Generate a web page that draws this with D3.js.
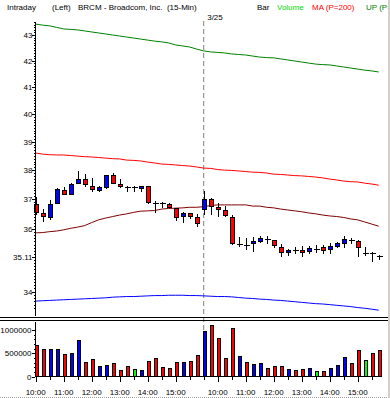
<!DOCTYPE html>
<html>
<head>
<meta charset="utf-8">
<script src="https://d3js.org/d3.v7.min.js"></script>
<style>
    body { margin: 0; background: #ffffff; }
    svg { display: block; font-family: "Liberation Sans", Arial, sans-serif; }
</style>
</head>
<body>
<div id="placeholder"></div>
<script>
// 15-min bars, two sessions
var day1Times = ["10:00", "10:15", "10:30", "10:45", "11:00", "11:15", "11:30", "11:45",
    "12:00", "12:15", "12:30", "12:45", "13:00", "13:15", "13:30", "13:45",
    "14:00", "14:15", "14:30", "14:45", "15:00", "15:15", "15:30", "15:45"];
var day2Times = ["9:30", "9:45", "10:00", "10:15", "10:30", "10:45", "11:00", "11:15", "11:30", "11:45",
    "12:00", "12:15", "12:30", "12:45", "13:00", "13:15", "13:30", "13:45",
    "14:00", "14:15", "14:30", "14:45", "15:00", "15:15", "15:30", "15:45"];
var dayLabel = "3/25";

var opens = [36.81, 36.53, 36.40, 36.86, 37.31, 37.15, 37.55, 37.68, 37.44, 37.29,
    37.39, 37.82, 37.51, 37.42, 37.41, 37.36, 37.44, 36.87, 36.86, 36.83,
    36.70, 36.42, 36.52, 36.40, 36.64, 37.00, 36.73, 36.63, 36.40, 35.50,
    35.48, 35.52, 35.60, 35.68, 35.64, 35.41, 35.25, 35.31, 35.31, 35.27,
    35.35, 35.39, 35.34, 35.45, 35.54, 35.65, 35.61, 35.22, 35.23, 35.12];
var highs = [37.08, 36.67, 36.98, 37.38, 37.43, 37.55, 37.97, 37.86, 37.72, 37.46,
    37.83, 37.91, 37.68, 37.44, 37.45, 37.46, 37.45, 36.94, 36.92, 36.88,
    36.72, 36.58, 36.55, 36.50, 37.27, 37.03, 36.88, 36.77, 36.47, 35.76,
    35.70, 35.76, 35.79, 35.78, 35.66, 35.52, 35.36, 35.43, 35.46, 35.46,
    35.48, 35.48, 35.56, 35.59, 35.78, 35.72, 35.65, 35.43, 35.27, 35.17];
var lows = [36.47, 36.23, 36.31, 36.84, 37.15, 37.13, 37.52, 37.43, 37.26, 37.26,
    37.36, 37.51, 37.39, 37.26, 37.26, 37.26, 36.83, 36.55, 36.72, 36.70,
    36.27, 36.20, 36.34, 36.08, 36.47, 36.46, 36.40, 36.40, 35.48, 35.43,
    35.32, 35.27, 35.56, 35.52, 35.38, 35.11, 35.14, 35.20, 35.11, 35.20,
    35.24, 35.19, 35.20, 35.38, 35.40, 35.52, 35.11, 35.14, 34.95, 35.00];
var closes = [36.57, 36.42, 36.83, 37.32, 37.17, 37.52, 37.68, 37.49, 37.34, 37.41,
    37.82, 37.55, 37.43, 37.41, 37.41, 37.44, 36.90, 36.86, 36.85, 36.72,
    36.40, 36.53, 36.42, 36.20, 37.00, 36.76, 36.66, 36.44, 35.54, 35.51,
    35.47, 35.61, 35.68, 35.67, 35.46, 35.25, 35.32, 35.30, 35.25, 35.38,
    35.35, 35.30, 35.42, 35.53, 35.65, 35.64, 35.40, 35.22, 35.22, 35.11];
var volumes = [674000, 580000, 580000, 580000, 472000, 493000, 776000, 298000, 363000, 211000,
    233000, 276000, 124000, 211000, 146000, 124000, 320000, 385000, 189000, 167000,
    298000, 298000, 320000, 450000, 972000, 1087000, 820000, 385000, 1037000, 428000,
    298000, 254000, 276000, 167000, 211000, 211000, 146000, 124000, 146000, 167000,
    102000, 102000, 167000, 233000, 407000, 276000, 559000, 341000, 493000, 559000];

// indicator lines
var upBand = [43.43, 43.39, 43.36, 43.30, 43.24, 43.22, 43.20, 43.16, 43.12, 43.08,
    43.04, 43.00, 42.96, 42.92, 42.88, 42.84, 42.80, 42.76, 42.73, 42.69,
    42.61, 42.57, 42.53, 42.45, 42.38, 42.34, 42.32, 42.30, 42.26, 42.24,
    42.22, 42.18, 42.14, 42.12, 42.11, 42.07, 42.03, 41.99, 41.95, 41.91,
    41.87, 41.85, 41.84, 41.80, 41.76, 41.72, 41.68, 41.64, 41.61, 41.57];
var ma200 = [38.60, 38.56, 38.54, 38.53, 38.53, 38.51, 38.49, 38.47, 38.46, 38.44,
    38.42, 38.40, 38.39, 38.35, 38.34, 38.32, 38.28, 38.25, 38.21, 38.20,
    38.18, 38.16, 38.14, 38.11, 38.07, 38.06, 38.02, 38.00, 37.99, 37.97,
    37.95, 37.93, 37.92, 37.90, 37.86, 37.85, 37.83, 37.81, 37.80, 37.78,
    37.76, 37.73, 37.69, 37.66, 37.62, 37.60, 37.59, 37.55, 37.52, 37.48];
var maShort = [35.88, 35.89, 35.92, 35.94, 35.98, 36.03, 36.07, 36.12, 36.22, 36.31,
    36.37, 36.42, 36.47, 36.51, 36.56, 36.60, 36.61, 36.62, 36.67, 36.69,
    36.70, 36.71, 36.73, 36.73, 36.75, 36.79, 36.81, 36.81, 36.81, 36.81,
    36.81, 36.77, 36.77, 36.73, 36.71, 36.67, 36.64, 36.61, 36.58, 36.54,
    36.51, 36.47, 36.44, 36.42, 36.39, 36.34, 36.31, 36.24, 36.17, 36.10];
var dnBand = [33.71, 33.72, 33.73, 33.74, 33.75, 33.76, 33.77, 33.78, 33.79, 33.80,
    33.81, 33.83, 33.84, 33.85, 33.85, 33.86, 33.87, 33.88, 33.88, 33.89,
    33.89, 33.89, 33.88, 33.88, 33.87, 33.86, 33.85, 33.85, 33.84, 33.82,
    33.80, 33.79, 33.77, 33.76, 33.74, 33.73, 33.71, 33.69, 33.67, 33.65,
    33.63, 33.62, 33.60, 33.58, 33.56, 33.54, 33.51, 33.49, 33.46, 33.43];

// labelled price levels (35 is replaced by the last-price marker)
var priceTicks = [34, 36, 37, 38, 39, 40, 41, 42, 43];
var lastPrice = 35.11;
var volumeTicks = [0, 500000, 1000000];

function draw() {
    "use strict";
    var width = 390,
            height = 398,
            axisX = 35;

    var times = day1Times.concat(day2Times);
    var idx = d3.range(times.length);

    var svg = d3.select("#placeholder")
            .append("svg")
            .attr("width", width)
            .attr("height", height);

    svg.append("rect").attr("width", width).attr("height", height).attr("fill", "#ffffff");

    //scales
    var x = d3.scalePoint().domain(idx).range([35.7, 378.7]);
    var y = d3.scaleLog().domain([34, 43]).range([291.7, 35]);
    var yv = d3.scaleLinear().domain([0, 1000000]).range([376.5, 330]);

    function colorOf(i) {
        if (closes[i] > opens[i]) { return "#0000ff"; }
        if (closes[i] < opens[i]) { return "#ff0000"; }
        return "#00ff00";
    }

    //header line
    var header = svg.append("g").style("font-size", "8px");
    var items = [
        {t: "Intraday", x: 7, c: "#000000"},
        {t: "(Left)", x: 52, c: "#000000"},
        {t: "BRCM - Broadcom, Inc.  (15-Min)", x: 78, c: "#000000"},
        {t: "Bar", x: 257, c: "#000000"},
        {t: "Volume", x: 277, c: "#00dd00"},
        {t: "MA (P=200)", x: 312, c: "#ff0000"},
        {t: "UP (P=", x: 366, c: "#008000"}
    ];
    header.selectAll("text").data(items).enter().append("text")
            .attr("x", function (d) { return d.x; })
            .attr("y", 9.5)
            .attr("fill", function (d) { return d.c; })
            .style("white-space", "pre")
            .text(function (d) { return d.t; });

    //day separator
    var dayStart = day1Times.length;
    svg.append("line")
            .attr("x1", x(dayStart)).attr("x2", x(dayStart))
            .attr("y1", 21).attr("y2", 376)
            .attr("stroke", "#808080")
            .attr("stroke-dasharray", "5,3");
    svg.append("text")
            .attr("x", x(dayStart) + 3.5).attr("y", 19.5)
            .style("font-size", "8px")
            .text(dayLabel);

    //indicator lines
    var line = d3.line()
            .x(function (d, i) { return x(i); })
            .y(function (d) { return y(d); });
    var series = [
        {v: upBand, c: "#008000"},
        {v: ma200, c: "#ff0000"},
        {v: maShort, c: "#800000"},
        {v: dnBand, c: "#0000ff"}
    ];
    svg.append("g").selectAll("path").data(series).enter().append("path")
            .attr("d", function (d) { return line(d.v); })
            .attr("fill", "none")
            .attr("stroke", function (d) { return d.c; })
            .attr("stroke-width", 1);

    //candles
    var candles = svg.append("g").attr("shape-rendering", "crispEdges");
    idx.forEach(function (i) {
        var cx = Math.round(x(i)) + 0.5;
        candles.append("line")
                .attr("x1", cx).attr("x2", cx)
                .attr("y1", y(highs[i])).attr("y2", y(lows[i]))
                .attr("stroke", "#000000");
        var top = y(Math.max(opens[i], closes[i])),
                bot = y(Math.min(opens[i], closes[i]));
        if (bot - top < 1) {
            candles.append("line")
                    .attr("x1", cx - 3).attr("x2", cx + 3)
                    .attr("y1", Math.round(top) + 0.5).attr("y2", Math.round(top) + 0.5)
                    .attr("stroke", "#000000");
        } else {
            candles.append("rect")
                    .attr("x", cx - 2).attr("width", 4)
                    .attr("y", top).attr("height", bot - top)
                    .attr("fill", colorOf(i))
                    .attr("stroke", "#000000");
        }
    });

    //price axis
    var ax = svg.append("g").attr("shape-rendering", "crispEdges");
    ax.append("line")
            .attr("x1", axisX + 0.5).attr("x2", axisX + 0.5)
            .attr("y1", 22).attr("y2", 316)
            .attr("stroke", "#000000");
    var minor = d3.range(335, 436).map(function (d) { return d / 10; });
    ax.selectAll(".minor").data(minor).enter().append("line")
            .attr("x1", axisX - 1.5).attr("x2", axisX)
            .attr("y1", function (d) { return Math.round(y(d)) + 0.5; })
            .attr("y2", function (d) { return Math.round(y(d)) + 0.5; })
            .attr("stroke", "#000000");
    var majors = priceTicks.concat([lastPrice]);
    ax.selectAll(".major").data(majors).enter().append("line")
            .attr("x1", axisX - 3.5).attr("x2", axisX)
            .attr("y1", function (d) { return Math.round(y(d)) + 0.5; })
            .attr("y2", function (d) { return Math.round(y(d)) + 0.5; })
            .attr("stroke", "#000000");
    svg.append("g").selectAll("text").data(majors).enter().append("text")
            .attr("x", axisX - 2.5)
            .attr("y", function (d) { return y(d) + 3; })
            .attr("text-anchor", "end")
            .style("font-size", "8px")
            .text(function (d) { return d === lastPrice ? d.toFixed(2) : d; });

    //panel divider (double line)
    svg.append("line").attr("x1", 0).attr("x2", 388).attr("y1", 317.5).attr("y2", 317.5)
            .attr("stroke", "#000000");
    svg.append("line").attr("x1", 0).attr("x2", 388).attr("y1", 320.5).attr("y2", 320.5)
            .attr("stroke", "#000000");

    //volume bars
    svg.append("g").attr("shape-rendering", "crispEdges")
            .selectAll("rect").data(idx).enter().append("rect")
            .attr("x", function (i) { return Math.round(x(i)) - 1; })
            .attr("width", 3)
            .attr("y", function (i) { return yv(volumes[i]); })
            .attr("height", function (i) { return yv(0) - yv(volumes[i]); })
            .attr("fill", colorOf)
            .attr("stroke", "#000000");

    //volume axis
    var vax = svg.append("g").attr("shape-rendering", "crispEdges");
    vax.append("line")
            .attr("x1", axisX + 0.5).attr("x2", axisX + 0.5)
            .attr("y1", 322).attr("y2", 377)
            .attr("stroke", "#000000");
    vax.append("line")
            .attr("x1", axisX).attr("x2", 382)
            .attr("y1", 376.5).attr("y2", 376.5)
            .attr("stroke", "#000000");
    vax.selectAll(".vminor").data(d3.range(0, 1100000, 100000)).enter().append("line")
            .attr("x1", function (d) { return volumeTicks.indexOf(d) >= 0 ? axisX - 3.5 : axisX - 1.5; })
            .attr("x2", axisX)
            .attr("y1", function (d) { return Math.round(yv(d)) + 0.5; })
            .attr("y2", function (d) { return Math.round(yv(d)) + 0.5; })
            .attr("stroke", "#000000");
    svg.append("g").selectAll("text").data(volumeTicks).enter().append("text")
            .attr("x", axisX - 3.5)
            .attr("y", function (d) { return yv(d) + 3; })
            .attr("text-anchor", "end")
            .style("font-size", "8px")
            .text(function (d) { return d; });

    //time axis: ticks every 30 minutes, labels on the hour
    var halfHours = idx.filter(function (i) { return /:(00|30)$/.test(times[i]); });
    vax.selectAll(".xt").data(halfHours).enter().append("line")
            .attr("x1", function (i) { return Math.round(x(i)) + 0.5; })
            .attr("x2", function (i) { return Math.round(x(i)) + 0.5; })
            .attr("y1", 376.5)
            .attr("y2", function (i) { return /:00$/.test(times[i]) ? 382 : 379.5; })
            .attr("stroke", "#000000");
    var hours = idx.filter(function (i) { return /:00$/.test(times[i]); });
    svg.append("g").selectAll("text").data(hours).enter().append("text")
            .attr("x", function (i) { return x(i); })
            .attr("y", 395)
            .attr("text-anchor", "middle")
            .style("font-size", "8px")
            .text(function (i) { return times[i]; });

    //window edges
    svg.append("rect").attr("x", 388).attr("y", 0).attr("width", 2).attr("height", height)
            .attr("fill", "#d4d0c8");
    svg.append("line").attr("x1", 0).attr("x2", 388).attr("y1", 397.5).attr("y2", 397.5)
            .attr("stroke", "#a0a0a0").attr("stroke-dasharray", "1,1");
}
draw();
</script>
</body>
</html>
